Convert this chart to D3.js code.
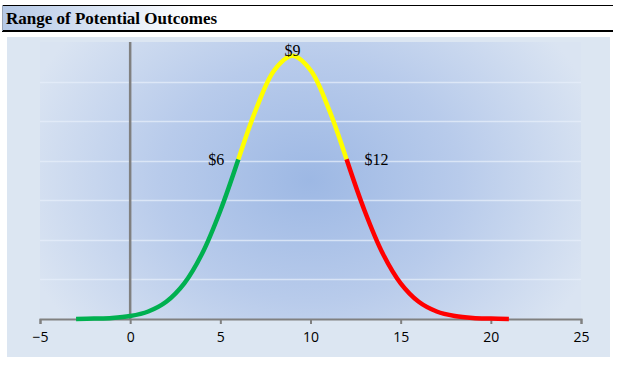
<!DOCTYPE html>
<html><head><meta charset="utf-8">
<script src="https://cdn.jsdelivr.net/npm/d3@7"></script>
<style>body{margin:0;background:#fff}svg{display:block}</style>
</head><body>
<script>
// Data (outcome value vs. relative likelihood)
const xValues = [-3,-2,-1,0,1,2,3,4,5,6,7,8,9,10,11,12,13,14,15,16,17,18,19,20,21];
const yValues = [0.0000,0.0002,0.0005,0.0015,0.0038,0.0087,0.0180,0.0332,0.0547,0.0807,0.1065,0.1258,0.1330,0.1258,0.1065,0.0807,0.0547,0.0332,0.0180,0.0087,0.0038,0.0015,0.0005,0.0002,0.0000];
const segmentNames = ["low","mid","high"];
const segmentStart = [-3, 6, 12];
const segmentEnd = [6, 12, 21];
const segmentColors = ["#00b050","#ffff00","#ff0000"];
const labelValues = [6, 9, 12];
const labelTexts = ["$6","$9","$12"];
const xTicks = [-5,0,5,10,15,20,25];
const yGrid = [0.02,0.04,0.06,0.08,0.10,0.12];
const title = "Range of Potential Outcomes";

const W = 620, H = 366;
const svg = d3.select("body").append("svg").attr("width", W).attr("height", H);
const defs = svg.append("defs");

// title bar gradient
const tg = defs.append("linearGradient").attr("id","tg").attr("x1",0).attr("x2",1).attr("y1",0).attr("y2",0);
tg.append("stop").attr("offset","0%").attr("stop-color","#b4c8e6");
tg.append("stop").attr("offset","100%").attr("stop-color","#ffffff");

const plot = {left:40, right:581, top:42, bottom:319};

const rg = defs.append("radialGradient").attr("id","bg")
  .attr("gradientUnits","userSpaceOnUse")
  .attr("cx",310).attr("cy",180).attr("r",300)
  .attr("gradientTransform","translate(310,180) scale(1,0.8) translate(-310,-180)");
rg.append("stop").attr("offset","0%").attr("stop-color","#9db8e4");
rg.append("stop").attr("offset","50%").attr("stop-color","#b8cbeb");
rg.append("stop").attr("offset","100%").attr("stop-color","#dae4f2");

// title
svg.append("rect").attr("x",2).attr("y",5).attr("width",190).attr("height",26).attr("fill","url(#tg)");
svg.append("line").attr("x1",2).attr("x2",613).attr("y1",5.5).attr("y2",5.5).attr("stroke","#000").attr("stroke-width",1);
svg.append("line").attr("x1",2).attr("x2",613).attr("y1",31).attr("y2",31).attr("stroke","#000").attr("stroke-width",2);
svg.append("line").attr("x1",2.5).attr("x2",2.5).attr("y1",5).attr("y2",31).attr("stroke","#9aa6b8").attr("stroke-width",1);
svg.append("text").attr("x",6).attr("y",24).text(title)
  .attr("font-family","'Liberation Serif', 'DejaVu Serif', serif").attr("font-weight","bold").attr("font-size",17).attr("fill","#000");

// chart area
svg.append("rect").attr("x",7).attr("y",37).attr("width",603).attr("height",320).attr("fill","#dce6f2");
svg.append("rect").attr("x",plot.left).attr("y",plot.top).attr("width",plot.right-plot.left).attr("height",plot.bottom-plot.top).attr("fill","url(#bg)");

const x = d3.scaleLinear().domain([-5,25]).range([plot.left, plot.right]);
const y = d3.scaleLinear().domain([0,0.14]).range([plot.bottom, plot.top]);

// gridlines
svg.append("g").selectAll("line").data(yGrid).join("line")
  .attr("x1",plot.left).attr("x2",plot.right)
  .attr("y1",d=>Math.round(y(d))+0.5).attr("y2",d=>Math.round(y(d))+0.5)
  .attr("stroke","#e6eef9").attr("stroke-opacity",0.75).attr("stroke-width",1.5);

// x axis
const xAxis = svg.append("g").attr("transform",`translate(0,${plot.bottom})`)
  .call(d3.axisBottom(x).tickValues(xTicks).tickSize(5).tickFormat(d3.format("d")));
xAxis.select(".domain").attr("stroke","#808080").attr("stroke-width",2);
xAxis.selectAll(".tick line").attr("stroke","#808080").attr("stroke-width",2);
xAxis.selectAll(".tick text").attr("fill","#000").attr("font-family","'Open Sans', sans-serif")
  .attr("font-size",14).attr("dy","1.05em");

// y axis line at x=0
svg.append("line").attr("x1",x(0)).attr("x2",x(0)).attr("y1",plot.top).attr("y2",plot.bottom)
  .attr("stroke","#808080").attr("stroke-width",2.5);

// curve segments
const pts = xValues.map((v,i)=>({x:v, y:yValues[i]}));
const line = d3.line().x(d=>x(d.x)).y(d=>y(d.y)).curve(d3.curveCatmullRom.alpha(0.5));
svg.append("g").selectAll("path").data(segmentNames).join("path")
  .attr("d",(d,i)=>line(pts.filter(p=>p.x>=segmentStart[i] && p.x<=segmentEnd[i])))
  .attr("fill","none").attr("stroke",(d,i)=>segmentColors[i]).attr("stroke-width",4.5)
  .attr("stroke-linecap","butt");

// labels
const yAt = v => yValues[xValues.indexOf(v)];
const lab = svg.append("g").attr("font-family","'Liberation Serif', 'DejaVu Serif', serif").attr("font-size",16).attr("fill","#000");
lab.append("text").attr("x",x(labelValues[0])-14).attr("y",y(yAt(labelValues[0]))+6).attr("text-anchor","end").text(labelTexts[0]);
lab.append("text").attr("x",x(labelValues[1])).attr("y",y(yAt(labelValues[1]))).attr("text-anchor","middle").text(labelTexts[1]);
lab.append("text").attr("x",x(labelValues[2])+18).attr("y",y(yAt(labelValues[2]))+6).attr("text-anchor","start").text(labelTexts[2]);
</script>
</body></html>
